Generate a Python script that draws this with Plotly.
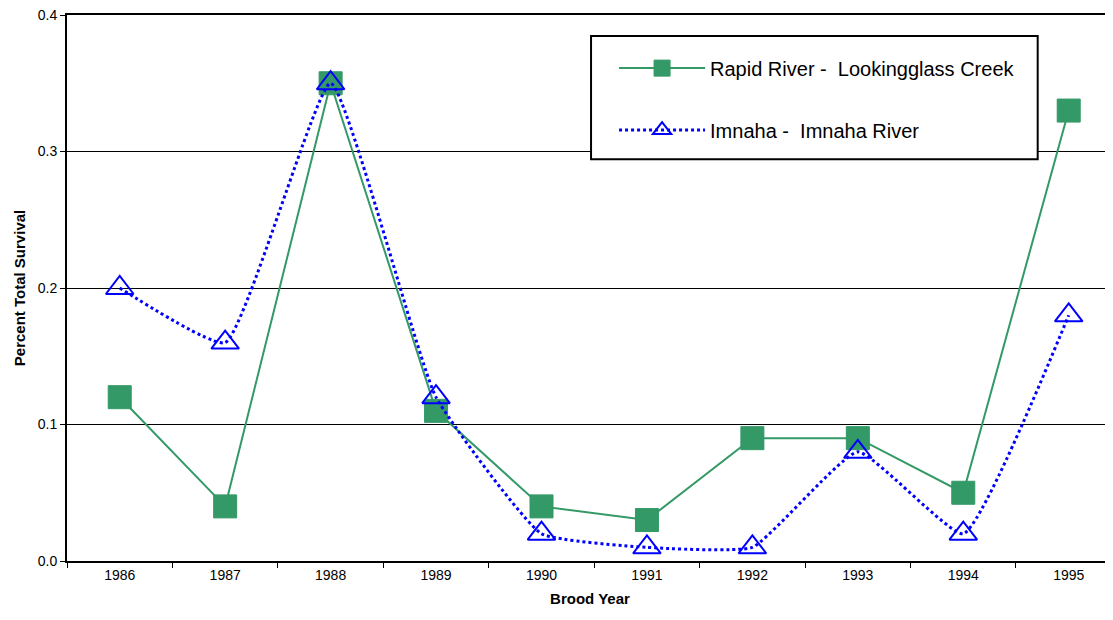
import plotly.graph_objects as go

years = ["1986", "1987", "1988", "1989", "1990", "1991", "1992", "1993", "1994", "1995"]
rapid_river = [0.12, 0.04, 0.35, 0.11, 0.04, 0.03, 0.09, 0.09, 0.05, 0.33]
imnaha = [0.20, 0.16, 0.35, 0.12, 0.02, 0.01, 0.01, 0.08, 0.02, 0.18]
y_ticks = [0.0, 0.1, 0.2, 0.3, 0.4]

font = "Liberation Sans, Arial, sans-serif"

fig = go.Figure()

fig.add_trace(go.Scatter(
    x=years, y=rapid_river, name="Rapid River -  Lookingglass Creek",
    mode="lines+markers", legendgroup="a",
    line=dict(color="#339966", width=2),
    marker=dict(symbol="square", size=23, color="#339966",
                line=dict(color="#339966", width=1)),
))

fig.add_trace(go.Scatter(
    x=years, y=imnaha, name="Imnaha -  Imnaha River",
    mode="lines+markers", legendgroup="b",
    line=dict(color="#0000ff", width=3, dash="dot", shape="spline", smoothing=0.4),
    marker=dict(symbol="triangle-up-open", size=24, color="#0000ff",
                line=dict(color="#0000ff", width=2)),
))

# legend frame drawn as a shape so the entries can sit further inside it
fig.add_shape(
    type="rect", xref="paper", yref="paper",
    x0=0.501, x1=0.928, y0=0.736, y1=0.9615,
    line=dict(color="black", width=2), fillcolor="white", layer="above",
)

# page body has an 8px margin, so the figure is shrunk by 8px to fit the window
fig.update_layout(
    width=1105, height=612,
    margin=dict(l=59, r=0, t=7, b=59),
    paper_bgcolor="white", plot_bgcolor="white",
    font=dict(family=font, color="black", size=14),
    showlegend=True,
    legend=dict(
        x=0.523, y=0.967, xanchor="left", yanchor="top",
        bgcolor="rgba(0,0,0,0)", borderwidth=0,
        font=dict(size=20, family=font), tracegroupgap=33,
        itemwidth=86,
        title=dict(text=" ", font=dict(size=12)),
    ),
    xaxis=dict(
        type="category", range=[-0.5, 9.42],
        tickson="boundaries", ticks="outside", ticklen=5, tickcolor="black",
        showline=True, linecolor="black", linewidth=2, mirror=True,
        showgrid=False, tickfont=dict(size=14),
        title=dict(text="<b>Brood Year</b>", font=dict(size=15), standoff=12),
    ),
    yaxis=dict(
        range=[0, 0.4], tickmode="array", tickvals=y_ticks,
        ticktext=[f"{v:.1f}" for v in y_ticks],
        ticklabeloverflow="allow",
        ticks="outside", ticklen=5, tickcolor="black",
        showline=True, linecolor="black", linewidth=2,
        showgrid=True, gridcolor="black", gridwidth=1,
        zeroline=False, tickfont=dict(size=14),
        title=dict(text="<b>Percent Total Survival</b>", font=dict(size=15), standoff=8),
    ),
)

fig.write_html("out.html")
